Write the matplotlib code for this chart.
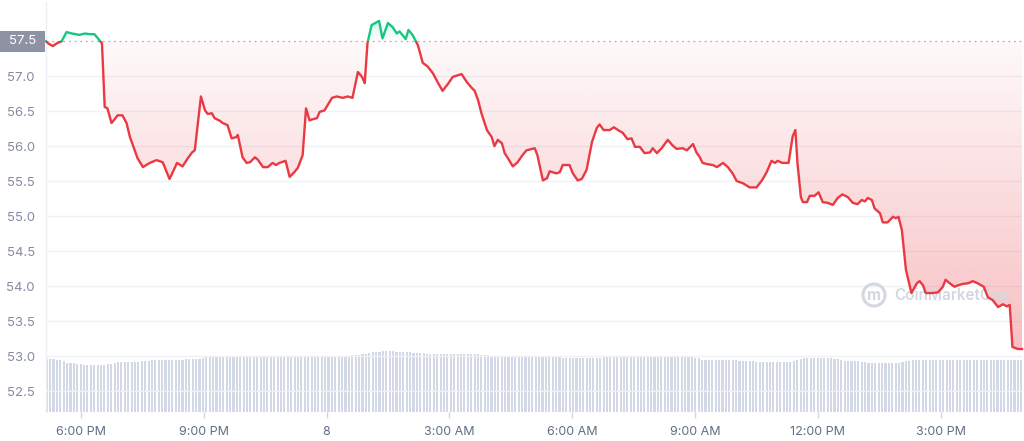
import numpy as np
import matplotlib
matplotlib.use('Agg')
import matplotlib.pyplot as plt
from matplotlib.path import Path
from matplotlib.patches import Rectangle, Circle
from matplotlib.colors import to_rgb
import matplotlib.transforms as mtrans

# ---- data ----
minutes = [9, 12, 19, 25, 32, 39, 47, 58, 66, 73, 80, 85, 91, 95, 99, 105, 114, 121, 127, 132,
           139, 143, 151, 161, 171, 180, 190, 201, 209, 217, 223, 227, 236, 242, 246, 252, 256, 264, 268, 275,
           281, 288, 290, 297, 303, 308, 315, 319, 327, 334, 341, 346, 351, 360, 366, 373, 378, 385, 390, 395,
           406, 410, 417, 428, 435, 444, 451, 458, 466, 472, 476, 480, 486, 497, 502, 510, 517, 523, 527, 536,
           540, 546, 554, 561, 568, 576, 583, 590, 598, 605, 618, 626, 633, 637, 642, 647, 655, 662, 666, 671,
           677, 681, 685, 693, 700, 707, 713, 725, 729, 737, 743, 747, 757, 762, 766, 776, 781, 788, 794, 801,
           809, 816, 820, 826, 835, 841, 847, 854, 861, 867, 872, 879, 886, 894, 898, 904, 911, 920, 927, 933,
           942, 948, 957, 962, 967, 971, 979, 986, 992, 1001, 1008, 1015, 1021, 1030, 1040, 1050, 1058, 1065, 1072, 1077,
           1081, 1088, 1097, 1103, 1107, 1110, 1115, 1118, 1124, 1128, 1135, 1141, 1147, 1154, 1162, 1169, 1176, 1184, 1191, 1198,
           1204, 1209, 1213, 1219, 1223, 1231, 1235, 1242, 1250, 1254, 1258, 1263, 1269, 1277, 1285, 1289, 1294, 1298, 1307, 1316,
           1323, 1327, 1333, 1340, 1345, 1352, 1360, 1367, 1374, 1383, 1389, 1396, 1404, 1411, 1417, 1421, 1425, 1433, 1439]

price = [57.50, 57.47, 57.43, 57.47, 57.50, 57.63, 57.61, 57.59, 57.61, 57.60, 57.60, 57.54, 57.47, 56.56, 56.54, 56.33, 56.44, 56.44, 56.33, 56.13,
         55.94, 55.83, 55.70, 55.76, 55.80, 55.77, 55.53, 55.76, 55.71, 55.83, 55.91, 55.94, 56.71, 56.51, 56.46, 56.47, 56.40, 56.36, 56.33, 56.30,
         56.11, 56.13, 56.16, 55.84, 55.76, 55.77, 55.84, 55.81, 55.70, 55.70, 55.76, 55.73, 55.76, 55.79, 55.56, 55.63, 55.69, 55.87, 56.54, 56.37,
         56.40, 56.49, 56.51, 56.69, 56.71, 56.69, 56.71, 56.69, 57.06, 56.99, 56.90, 57.47, 57.73, 57.79, 57.54, 57.76, 57.70, 57.61, 57.64, 57.53,
         57.66, 57.59, 57.44, 57.19, 57.14, 57.04, 56.91, 56.79, 56.89, 56.99, 57.03, 56.91, 56.83, 56.79, 56.66, 56.47, 56.23, 56.13, 56.00, 56.09,
         56.04, 55.90, 55.84, 55.71, 55.77, 55.87, 55.94, 55.97, 55.87, 55.51, 55.54, 55.64, 55.61, 55.63, 55.73, 55.73, 55.61, 55.51, 55.53, 55.66,
         56.06, 56.26, 56.31, 56.23, 56.23, 56.27, 56.23, 56.19, 56.10, 56.11, 55.99, 55.99, 55.90, 55.91, 55.97, 55.90, 55.97, 56.09, 56.01, 55.96,
         55.97, 55.94, 56.03, 55.91, 55.84, 55.76, 55.74, 55.73, 55.70, 55.76, 55.70, 55.61, 55.50, 55.47, 55.41, 55.41, 55.51, 55.63, 55.79, 55.76,
         55.79, 55.76, 55.76, 56.14, 56.23, 55.76, 55.27, 55.20, 55.20, 55.29, 55.29, 55.34, 55.20, 55.19, 55.16, 55.26, 55.31, 55.27, 55.19, 55.17,
         55.23, 55.21, 55.26, 55.23, 55.11, 55.04, 54.91, 54.91, 54.99, 54.97, 54.99, 54.80, 54.23, 53.90, 54.04, 54.07, 54.01, 53.90, 53.90, 53.91,
         53.99, 54.09, 54.04, 53.99, 54.01, 54.03, 54.04, 54.07, 54.04, 53.99, 53.84, 53.80, 53.70, 53.74, 53.71, 53.73, 53.13, 53.10, 53.10]

volume = [1.06, 1.06, 1.06, 1.05, 1.05, 1.02, 0.99, 0.98, 0.98, 0.97, 0.97, 0.95,
          0.94, 0.94, 0.94, 0.94, 0.94, 0.95, 0.97, 0.97, 0.99, 1.00, 1.00, 1.00,
          1.00, 1.01, 1.01, 1.01, 1.02, 1.02, 1.03, 1.04, 1.04, 1.04, 1.04, 1.04,
          1.04, 1.04, 1.05, 1.05, 1.05, 1.06, 1.06, 1.06, 1.06, 1.07, 1.09, 1.10,
          1.10, 1.10, 1.10, 1.10, 1.10, 1.10, 1.10, 1.10, 1.10, 1.10, 1.10, 1.10,
          1.10, 1.10, 1.10, 1.10, 1.10, 1.10, 1.11, 1.11, 1.11, 1.10, 1.10, 1.11,
          1.11, 1.11, 1.11, 1.12, 1.12, 1.12, 1.12, 1.12, 1.12, 1.12, 1.12, 1.12,
          1.12, 1.12, 1.13, 1.13, 1.13, 1.13, 1.14, 1.14, 1.15, 1.16, 1.17, 1.18,
          1.20, 1.21, 1.21, 1.22, 1.22, 1.22, 1.22, 1.21, 1.21, 1.21, 1.20, 1.20,
          1.19, 1.18, 1.18, 1.18, 1.17, 1.17, 1.17, 1.17, 1.17, 1.17, 1.17, 1.17,
          1.17, 1.17, 1.16, 1.16, 1.16, 1.16, 1.16, 1.16, 1.15, 1.15, 1.14, 1.13,
          1.12, 1.12, 1.12, 1.12, 1.12, 1.12, 1.12, 1.12, 1.12, 1.12, 1.12, 1.12,
          1.12, 1.12, 1.12, 1.12, 1.11, 1.11, 1.10, 1.10, 1.09, 1.08, 1.08, 1.08,
          1.08, 1.08, 1.08, 1.08, 1.08, 1.08, 1.08, 1.09, 1.10, 1.11, 1.11, 1.12,
          1.12, 1.12, 1.12, 1.12, 1.11, 1.11, 1.11, 1.11, 1.11, 1.11, 1.11, 1.11,
          1.11, 1.11, 1.11, 1.10, 1.10, 1.10, 1.10, 1.10, 1.10, 1.10, 1.10, 1.09,
          1.08, 1.05, 1.04, 1.04, 1.04, 1.04, 1.04, 1.04, 1.04, 1.04, 1.04, 1.04,
          1.03, 1.02, 1.02, 1.02, 1.02, 1.01, 1.01, 1.00, 1.00, 1.00, 1.00, 1.00,
          1.00, 1.00, 1.00, 1.00, 1.03, 1.05, 1.07, 1.08, 1.09, 1.09, 1.09, 1.09,
          1.09, 1.08, 1.08, 1.08, 1.07, 1.06, 1.05, 1.03, 1.03, 1.02, 1.02, 1.02,
          1.01, 1.00, 0.99, 0.99, 0.99, 0.99, 0.99, 0.99, 0.99, 0.99, 0.99, 0.99,
          1.00, 1.02, 1.03, 1.04, 1.04, 1.04, 1.04, 1.04, 1.04, 1.04, 1.04, 1.04,
          1.04, 1.04, 1.04, 1.04, 1.04, 1.04, 1.04, 1.04, 1.04, 1.04, 1.04, 1.04,
          1.04, 1.04, 1.04, 1.04, 1.04, 1.04, 1.04, 1.04, 1.04, 1.04, 1.04, 1.04]

open_price = 57.5
y_ticks = [52.5, 53.0, 53.5, 54.0, 54.5, 55.0, 55.5, 56.0, 56.5, 57.0]
x_tick_minutes = [60, 240, 420, 600, 780, 960, 1140, 1320]
x_tick_labels = ['6:00 PM', '9:00 PM', '8', '3:00 AM', '6:00 AM', '9:00 AM', '12:00 PM', '3:00 PM']

RED = '#ea3943'
GREEN = '#16c784'
LABEL = '#858ca2'

plt.rcParams['font.family'] = ['Inter', 'DejaVu Sans']

t = np.array(minutes, dtype=float)
p = np.array(price)
t0, t1 = t[0], t[-1]
ylo, yhi = 52.2, 58.06

fig = plt.figure(figsize=(10.24, 4.41), dpi=100)
ax = fig.add_axes([46 / 1024, 29 / 441, 976 / 1024, 410 / 441])
axv = ax.twinx()

# volume bars (background axis)
vol_t = np.linspace(t0 + 1, t1 - 1, len(volume))
axv.bar(vol_t, volume, width=3.1, color='#d3d8e6', linewidth=0)
axv.set_ylim(0, 8.2)
axv.set_xlim(t0, t1)
axv.axis('off')
ax.set_zorder(axv.get_zorder() + 1)
ax.patch.set_visible(False)

# gradient fills
def gradient_fill(mask_where, color, a_low, a_high, y0, y1):
    fb = ax.fill_between(t, p, open_price, where=mask_where, interpolate=True,
                         facecolor='none', edgecolor='none')
    paths = fb.get_paths()
    if not paths:
        return
    path = Path.make_compound_path(*paths)
    rgba = np.zeros((256, 1, 4))
    rgba[..., :3] = to_rgb(color)
    rgba[:, 0, 3] = np.linspace(a_low, a_high, 256)
    im = ax.imshow(rgba, extent=[t0, t1, y0, y1], origin='lower', aspect='auto',
                   zorder=1, interpolation='bilinear')
    im.set_clip_path(path, ax.transData)

gradient_fill(p <= open_price, RED, 0.32, 0.03, p.min(), open_price)
gradient_fill(p >= open_price, GREEN, 0.0, 0.18, open_price, p.max())

# price line, colour split at open price
ln_r, = ax.plot(t, p, color=RED, lw=1.7, zorder=4, solid_joinstyle='round')
ln_r.set_clip_path(Rectangle((t0 - 10, 40), t1 - t0 + 20, open_price - 40, transform=ax.transData))
ln_g, = ax.plot(t, p, color=GREEN, lw=1.7, zorder=4, solid_joinstyle='round')
ln_g.set_clip_path(Rectangle((t0 - 10, open_price), t1 - t0 + 20, 10, transform=ax.transData))

ax.axhline(open_price, color='#a9b1c1', lw=0.9, ls=(0, (1.5, 3)), zorder=3)

ax.set_xlim(t0, t1)
ax.set_ylim(ylo, yhi)
ax.set_yticks(y_ticks)
ax.set_yticklabels([f'{v:.1f}' for v in y_ticks])
ax.yaxis.grid(True, color='#eff2f5', lw=1)
ax.set_axisbelow(True)
ax.tick_params(axis='y', length=0, pad=8, labelsize=9.5, labelcolor=LABEL)
ax.set_xticks(x_tick_minutes)
ax.set_xticklabels(x_tick_labels)
ax.tick_params(axis='x', length=4, width=1, color='#cfd6e4', pad=6, labelsize=9, labelcolor='#616e85')
for s in ['top', 'right', 'bottom']:
    ax.spines[s].set_visible(False)
ax.spines['left'].set_color('#eceff3')
ax.spines['left'].set_linewidth(1)

# open-price label box
fig.patches.append(Rectangle((0, (441 - 52) / 441), 45 / 1024, 21 / 441,
                             transform=fig.transFigure, facecolor='#8d93a3', edgecolor='none'))
fig.text(22.5 / 1024, (441 - 41.5) / 441, '57.5', color='white', fontsize=9.5,
         ha='center', va='center')

# watermark
wm_col = '#d3d7e0'
circ = Circle((874, 441 - 295), 11, transform=mtrans.IdentityTransform(), fill=False,
              edgecolor=wm_col, lw=2.2, zorder=2)
ax.add_artist(circ)
ax.text(874 / 1024, (441 - 295) / 441, 'm', transform=fig.transFigure, color=wm_col,
        fontsize=11, fontweight='bold', ha='center', va='center', zorder=2)
ax.text(894 / 1024, (441 - 295) / 441, 'CoinMarketCap', transform=fig.transFigure,
        color=wm_col, fontsize=11, fontweight='semibold', ha='left', va='center', zorder=2)

fig.savefig('out.png', dpi=100)
